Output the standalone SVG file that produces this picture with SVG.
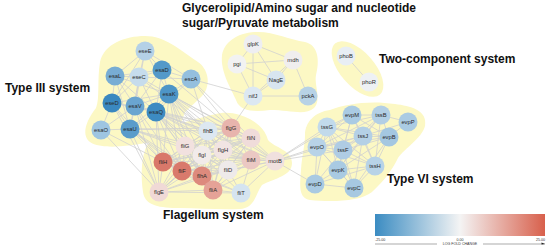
<svg xmlns="http://www.w3.org/2000/svg" width="550" height="249" viewBox="0 0 550 249">
<style>
.hull{fill:#fcf8c4;stroke:none}
.n circle{stroke:none}
.n text{font-family:"Liberation Sans",Arial,sans-serif;font-size:5.8px;fill:#2a2a2a;text-anchor:middle;dominant-baseline:central}
.lbl{font-family:"Liberation Sans",Arial,sans-serif;font-weight:bold;font-size:12px;fill:#111}
.leg{font-family:"Liberation Sans",Arial,sans-serif;font-size:3.6px;fill:#333}
</style>
<defs>
<linearGradient id="lfc" x1="0" y1="0" x2="1" y2="0">
<stop offset="0" stop-color="#3b8cc2"/>
<stop offset="0.5" stop-color="#f4f4f4"/>
<stop offset="1" stop-color="#d8604c"/>
</linearGradient>
</defs>
<rect width="550" height="249" fill="#fff"/>
<g id="hulls">
<path class="hull" d="M100,62 C104,44 125,36 145,36 C165,36 180,50 195,60 C210,68 212,88 200,98 L185,112 L175,140 L145,143 C125,147 100,149 90,142 C80,134 88,118 96,108 C100,98 97,80 100,62 Z"/>
<path class="hull" d="M145,150 C150,135 180,122 200,118 C215,114 225,110 240,115 C255,120 265,128 268,140 C275,148 292,150 292,163 C292,176 275,178 262,185 C255,195 255,208 240,209 C220,210 200,208 180,208 C160,208 145,206 143,192 C141,178 141,162 145,150 Z"/>
<path class="hull" d="M222,55 C225,40 240,32 258,32 C275,32 290,40 305,42 C318,45 320,60 316,75 C314,85 322,100 314,108 C305,116 290,110 270,110 C255,112 240,112 236,100 C232,90 220,72 222,55 Z"/>
<ellipse class="hull" cx="357.5" cy="69" rx="34" ry="17" transform="rotate(48.5 357.5 69)"/>
<path class="hull" d="M305,135 C305,122 315,112 330,110 C345,104 370,100 395,104 C410,106 428,110 425,126 C422,138 405,148 398,158 C392,170 385,180 372,192 C360,202 330,202 310,200 C298,198 300,185 301,170 C302,155 305,145 305,135 Z"/>
</g>
<g id="connectors" fill="none" stroke="#d0d0d0" stroke-width="0.8">
<path d="M145 51L115 76M145 51L139 77M145 51L162 70M145 51L191 79M145 51L169 94M145 51L112 103M145 51L135 106M115 76L139 77M115 76L162 70M115 76L112 103M115 76L135 106M115 76L156 112M115 76L130 129M115 76L169 94M139 77L162 70M139 77L191 79M139 77L169 94M139 77L112 103M139 77L135 106M139 77L156 112M139 77L130 129M162 70L191 79M162 70L169 94M162 70L135 106M162 70L156 112M191 79L169 94M191 79L156 112M169 94L135 106M169 94L156 112M169 94L112 103M169 94L130 129M112 103L135 106M112 103L101 130M112 103L130 129M112 103L156 112M135 106L156 112M135 106L130 129M135 106L101 130M156 112L130 129M101 130L130 129"/>
<path d="M191 79L253 96M253 96L231 128"/>
<path d="M169 94L208 131M169 94L231 128M169 94L251 138M169 94L251 160M169 94L275 161M169 94L223 150M169 94L185 146M169 94L163 162M169 94L182 171M169 94L202 176M169 94L228 170M169 94L202 155M156 112L208 131M156 112L231 128M156 112L251 138M156 112L251 160M156 112L275 161M156 112L223 150M156 112L185 146M156 112L202 155M156 112L163 162M156 112L182 171M156 112L202 176M156 112L213 190M156 112L159 192M156 112L228 170M156 112L241 193M130 129L208 131M130 129L185 146M130 129L163 162M130 129L182 171M130 129L159 192M130 129L202 176M130 129L213 190M130 129L202 155M130 129L251 160M130 129L231 128M135 106L163 162M135 106L208 131M135 106L231 128M135 106L182 171M135 106L159 192M112 103L163 162M112 103L159 192M101 130L159 192M101 130L163 162M191 79L231 128M191 79L208 131M191 79L251 138M162 70L231 128M139 77L208 131"/>
<path d="M208 131L231 128M208 131L251 138M208 131L185 146M208 131L202 155M208 131L223 150M208 131L163 162M208 131L182 171M208 131L202 176M208 131L228 170M208 131L251 160M208 131L275 161M208 131L159 192M208 131L213 190M231 128L251 138M231 128L185 146M231 128L202 155M231 128L223 150M231 128L163 162M231 128L182 171M231 128L202 176M231 128L228 170M231 128L251 160M231 128L275 161M231 128L159 192M231 128L213 190M251 138L185 146M251 138L202 155M251 138L223 150M251 138L163 162M251 138L182 171M251 138L202 176M251 138L228 170M251 138L251 160M251 138L275 161M251 138L213 190M185 146L202 155M185 146L223 150M185 146L163 162M185 146L182 171M185 146L202 176M185 146L228 170M185 146L251 160M185 146L159 192M185 146L213 190M202 155L223 150M202 155L163 162M202 155L182 171M202 155L202 176M202 155L228 170M202 155L251 160M202 155L159 192M202 155L213 190M202 155L275 161M223 150L163 162M223 150L182 171M223 150L202 176M223 150L228 170M223 150L251 160M223 150L275 161M223 150L213 190M223 150L159 192M163 162L182 171M163 162L202 176M163 162L159 192M163 162L213 190M163 162L228 170M163 162L251 160M182 171L202 176M182 171L159 192M182 171L213 190M182 171L228 170M182 171L251 160M182 171L241 193M202 176L159 192M202 176L213 190M202 176L228 170M202 176L251 160M202 176L241 193M202 176L275 161M228 170L251 160M228 170L275 161M228 170L213 190M228 170L241 193M228 170L159 192M251 160L275 161M251 160L213 190M251 160L241 193M275 161L213 190M275 161L241 193M159 192L213 190M159 192L241 193M213 190L241 193"/>
<path d="M253 44L293 60M253 44L237 64M253 44L276 80M253 44L253 96M237 64L293 60M237 64L276 80M237 64L253 96M293 60L276 80M293 60L308 96M293 60L253 96M276 80L253 96M253 96L308 96"/>
<path d="M346 56L369 82"/>
<path d="M275 161L327 127M275 161L317 147M275 161L352 115M275 161L343 150M275 161L363 136M275 161L315 184"/>
<path d="M352 115L381 115M352 115L327 127M352 115L363 136M352 115L389 137M352 115L317 147M352 115L343 150M352 115L375 166M352 115L338 170M381 115L408 122M381 115L327 127M381 115L363 136M381 115L389 137M381 115L343 150M381 115L375 166M381 115L317 147M381 115L338 170M408 122L389 137M408 122L363 136M327 127L363 136M327 127L389 137M327 127L317 147M327 127L343 150M327 127L375 166M327 127L338 170M327 127L315 184M327 127L354 188M363 136L389 137M363 136L317 147M363 136L343 150M363 136L375 166M363 136L338 170M363 136L354 188M389 137L317 147M389 137L343 150M389 137L375 166M389 137L338 170M389 137L354 188M317 147L343 150M317 147L375 166M317 147L338 170M317 147L315 184M317 147L354 188M343 150L375 166M343 150L338 170M343 150L315 184M343 150L354 188M375 166L338 170M375 166L315 184M375 166L354 188M338 170L315 184M338 170L354 188M315 184L354 188"/>
</g>
<g id="nodes">
<g id="eseE" class="n"><circle cx="145" cy="51" r="9.5" fill="#b4d1e7"/><text x="145" y="51">eseE</text></g>
<g id="esaL" class="n"><circle cx="115" cy="76" r="9.5" fill="#78add4"/><text x="115" y="76">esaL</text></g>
<g id="eseC" class="n"><circle cx="139" cy="77" r="9.5" fill="#c6dcec"/><text x="139" y="77">eseC</text></g>
<g id="esaD" class="n"><circle cx="162" cy="70" r="9.5" fill="#5399c9"/><text x="162" y="70">esaD</text></g>
<g id="escA" class="n"><circle cx="191" cy="79" r="9.5" fill="#94bfde"/><text x="191" y="79">escA</text></g>
<g id="esaK" class="n"><circle cx="169" cy="94" r="9.5" fill="#4d95c7"/><text x="169" y="94">esaK</text></g>
<g id="eseD" class="n"><circle cx="112" cy="103" r="9.5" fill="#3a88c0"/><text x="112" y="103">eseD</text></g>
<g id="esaV" class="n"><circle cx="135" cy="106" r="9.5" fill="#6aa5d0"/><text x="135" y="106">esaV</text></g>
<g id="esaQ" class="n"><circle cx="156" cy="112" r="9.5" fill="#3d8bc2"/><text x="156" y="112">esaQ</text></g>
<g id="esaO" class="n"><circle cx="101" cy="130" r="9.5" fill="#9ec5e1"/><text x="101" y="130">esaO</text></g>
<g id="esaU" class="n"><circle cx="130" cy="129" r="9.5" fill="#5a9ccb"/><text x="130" y="129">esaU</text></g>
<g id="flhB" class="n"><circle cx="208" cy="131" r="9.5" fill="#dde8f1"/><text x="208" y="131">flhB</text></g>
<g id="flgG" class="n"><circle cx="231" cy="128" r="9.5" fill="#e8b4ad"/><text x="231" y="128">flgG</text></g>
<g id="fliN" class="n"><circle cx="251" cy="138" r="9.5" fill="#f0dcda"/><text x="251" y="138">fliN</text></g>
<g id="fliG" class="n"><circle cx="185" cy="146" r="9.5" fill="#f2e1df"/><text x="185" y="146">fliG</text></g>
<g id="flgI" class="n"><circle cx="202" cy="155" r="9.5" fill="#f2ebea"/><text x="202" y="155">flgI</text></g>
<g id="flgH" class="n"><circle cx="223" cy="150" r="9.5" fill="#f1e4e3"/><text x="223" y="150">flgH</text></g>
<g id="fliH" class="n"><circle cx="163" cy="162" r="9.5" fill="#d9786a"/><text x="163" y="162">fliH</text></g>
<g id="fliF" class="n"><circle cx="182" cy="171" r="9.5" fill="#d97a6c"/><text x="182" y="171">fliF</text></g>
<g id="flhA" class="n"><circle cx="202" cy="176" r="9.5" fill="#dd8a7d"/><text x="202" y="176">flhA</text></g>
<g id="fliD" class="n"><circle cx="228" cy="170" r="9.5" fill="#eeeaea"/><text x="228" y="170">fliD</text></g>
<g id="fliM" class="n"><circle cx="251" cy="160" r="9.5" fill="#ebc8c3"/><text x="251" y="160">fliM</text></g>
<g id="motB" class="n"><circle cx="275" cy="161" r="9.5" fill="#f0e0de"/><text x="275" y="161">motB</text></g>
<g id="flgE" class="n"><circle cx="159" cy="192" r="9.5" fill="#f0d9d6"/><text x="159" y="192">flgE</text></g>
<g id="fliA" class="n"><circle cx="213" cy="190" r="9.5" fill="#e5a297"/><text x="213" y="190">fliA</text></g>
<g id="fliT" class="n"><circle cx="241" cy="193" r="9.5" fill="#d5e4f0"/><text x="241" y="193">fliT</text></g>
<g id="glpK" class="n"><circle cx="253" cy="44" r="9.5" fill="#eeeef2"/><text x="253" y="44">glpK</text></g>
<g id="pgi" class="n"><circle cx="237" cy="64" r="9.5" fill="#f2f2f2"/><text x="237" y="64">pgi</text></g>
<g id="mdh" class="n"><circle cx="293" cy="60" r="9.5" fill="#f0eeee"/><text x="293" y="60">mdh</text></g>
<g id="NagE" class="n"><circle cx="276" cy="80" r="9.5" fill="#d8e5f0"/><text x="276" y="80">NagE</text></g>
<g id="nifJ" class="n"><circle cx="253" cy="96" r="9.5" fill="#dce8f2"/><text x="253" y="96">nifJ</text></g>
<g id="pckA" class="n"><circle cx="308" cy="96" r="9.5" fill="#b7d2e6"/><text x="308" y="96">pckA</text></g>
<g id="phoB" class="n"><circle cx="346" cy="56" r="9.5" fill="#e8eef4"/><text x="346" y="56">phoB</text></g>
<g id="phoR" class="n"><circle cx="369" cy="82" r="9.5" fill="#eef1f4"/><text x="369" y="82">phoR</text></g>
<g id="evpM" class="n"><circle cx="352" cy="115" r="9.5" fill="#aacbe3"/><text x="352" y="115">evpM</text></g>
<g id="tssB" class="n"><circle cx="381" cy="115" r="9.5" fill="#b2cfe5"/><text x="381" y="115">tssB</text></g>
<g id="evpP" class="n"><circle cx="408" cy="122" r="9.5" fill="#aacbe3"/><text x="408" y="122">evpP</text></g>
<g id="tssG" class="n"><circle cx="327" cy="127" r="9.5" fill="#c2daeb"/><text x="327" y="127">tssG</text></g>
<g id="tssJ" class="n"><circle cx="363" cy="136" r="9.5" fill="#b4d0e6"/><text x="363" y="136">tssJ</text></g>
<g id="evpB" class="n"><circle cx="389" cy="137" r="9.5" fill="#a4c7e1"/><text x="389" y="137">evpB</text></g>
<g id="evpO" class="n"><circle cx="317" cy="147" r="9.5" fill="#b8d3e7"/><text x="317" y="147">evpO</text></g>
<g id="tssF" class="n"><circle cx="343" cy="150" r="9.5" fill="#afcce4"/><text x="343" y="150">tssF</text></g>
<g id="tssH" class="n"><circle cx="375" cy="166" r="9.5" fill="#b8d3e7"/><text x="375" y="166">tssH</text></g>
<g id="evpK" class="n"><circle cx="338" cy="170" r="9.5" fill="#a9cae2"/><text x="338" y="170">evpK</text></g>
<g id="evpD" class="n"><circle cx="315" cy="184" r="9.5" fill="#a9cae2"/><text x="315" y="184">evpD</text></g>
<g id="evpC" class="n"><circle cx="354" cy="188" r="9.5" fill="#a6c8e1"/><text x="354" y="188">evpC</text></g>
</g>
<g id="labels">
<text class="lbl" x="182" y="12">Glycerolipid/Amino sugar and nucleotide</text>
<text class="lbl" x="182" y="26.5">sugar/Pyruvate metabolism</text>
<text class="lbl" x="5" y="92">Type III system</text>
<text class="lbl" x="379" y="63">Two-component system</text>
<text class="lbl" x="163" y="218.5">Flagellum system</text>
<text class="lbl" x="387" y="183">Type VI system</text>
</g>
<g id="legend">
<rect x="375" y="214" width="170" height="22" fill="url(#lfc)"/>
<text class="leg" x="375" y="240.5">-25.00</text>
<text class="leg" x="460" y="240.5" text-anchor="middle">0.00</text>
<text class="leg" x="545" y="240.5" text-anchor="end">25.00</text>
<line x1="375" y1="244" x2="437" y2="244" stroke="#555" stroke-width="0.5"/>
<line x1="483" y1="244" x2="545" y2="244" stroke="#555" stroke-width="0.5"/>
<text class="leg" x="460" y="245.3" text-anchor="middle">LOG FOLD CHANGE</text>
<path d="M541.5,242.5 L545,244 L541.5,244.6 Z" fill="#222"/>
</g>
</svg>
